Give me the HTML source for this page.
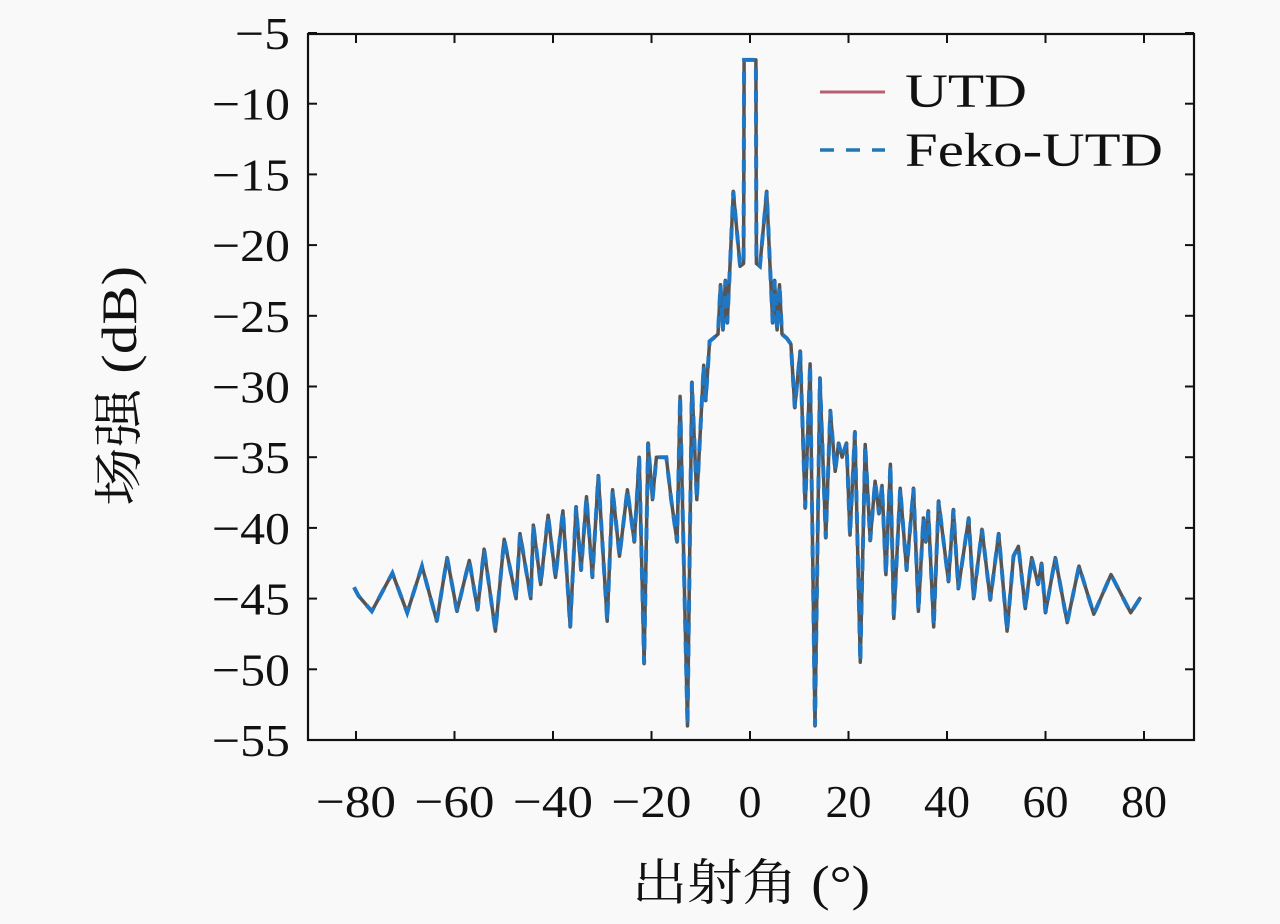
<!DOCTYPE html>
<html><head><meta charset="utf-8"><style>
html,body{margin:0;padding:0;background:#f9f9f9;}
svg text{font-family:"Liberation Serif","Noto Serif CJK SC","Noto Sans CJK SC",serif;fill:#111;}
</style></head><body>
<svg id="chart" width="1280" height="919" viewBox="0 0 1280 919" xmlns="http://www.w3.org/2000/svg">
<rect x="0" y="0" width="1280" height="919" fill="#f9f9f9"/>
<g id="ticks"></g>
<g id="series"></g>
<rect x="308" y="34" width="886" height="706" fill="none" stroke="#111" stroke-width="2.2"/>
<text x="751" y="900" font-size="50" text-anchor="middle" textLength="238" lengthAdjust="spacingAndGlyphs">出射角 (°)</text>
<text transform="translate(136,386) rotate(-90)" font-size="50" text-anchor="middle" textLength="240" lengthAdjust="spacingAndGlyphs">场强 (dB)</text>
<g>
<line x1="820" y1="92" x2="885" y2="92" stroke="#b86070" stroke-width="3"/>
<text x="905" y="107" font-size="48" textLength="122" lengthAdjust="spacingAndGlyphs">UTD</text>
<line x1="820" y1="150" x2="885" y2="150" stroke="#1f77b4" stroke-width="3.5" stroke-dasharray="14,12"/>
<text x="905" y="166" font-size="48" textLength="258" lengthAdjust="spacingAndGlyphs">Feko-UTD</text>
</g>
</svg>
<script>
const xTicks = [-80,-60,-40,-20,0,20,40,60,80];
const yTicks = [-5,-10,-15,-20,-25,-30,-35,-40,-45,-50,-55];
const angles = [-80.4,-79.5,-76.8,-72.6,-69.6,-66.6,-63.6,-61.5,-59.5,-57,-55.3,-54,-51.7,-49.9,-47.5,-46.7,-44.5,-44,-42.5,-41,-39.5,-38,-36.5,-35.3,-34.3,-33.2,-32,-30.8,-29,-27.9,-26.5,-24.9,-23.5,-22.5,-21.5,-20.7,-19.8,-19,-17,-16,-14.8,-14.2,-12.7,-11.8,-10.8,-9.4,-9.0,-8.2,-7.5,-6.5,-6.0,-5.5,-5.0,-4.6,-4.0,-3.4,-2.0,-1.3,-1.2,0,1.2,1.3,2.0,3.4,4.0,4.6,5.0,5.5,6.0,6.5,7.5,8.3,9.1,10.2,11.2,12.2,13.2,14.2,15.4,16.3,17.3,18.0,18.7,19.6,20.3,21.3,22.4,23.4,24.4,25.4,26.2,26.8,27.6,28.5,29.2,30.5,31.8,33.2,34.2,35.2,35.7,36.2,37.3,38.3,40.3,41.3,42.3,44.4,45.4,47.1,48.8,50.5,52.2,53.5,54.5,55.9,57.2,58.5,59.2,60,62,64.4,66.8,69.8,73.3,77.3,79.3];
const utdValues = [-44.2,-44.8,-45.9,-43.2,-46,-42.7,-46.6,-42.1,-45.9,-42.3,-45.8,-41.5,-47.3,-40.8,-45,-40.4,-45,-39.8,-44,-39.1,-43.5,-38.8,-47,-38.5,-43,-37.8,-43.5,-36.3,-46.6,-37.3,-42,-37.3,-41,-35,-49.6,-34,-38,-35,-35,-38,-41,-30.7,-54,-29.7,-38,-28.5,-31,-26.8,-26.6,-26.3,-22.8,-26,-22.5,-25.5,-21,-16.2,-21.5,-21.3,-6.9,-6.9,-6.9,-21.3,-21.5,-16.2,-21,-25.5,-22.5,-26,-22.8,-26.3,-26.6,-27,-31.5,-27.5,-38.6,-28.4,-54,-29.4,-40.7,-31.7,-36,-34,-35,-34,-40.5,-33.2,-49.5,-34.1,-40.9,-36.7,-39,-37,-43.3,-35.5,-46.4,-37.2,-43,-37.2,-45.9,-39.3,-41,-38.8,-47,-38.1,-43.8,-38.7,-44.3,-39.3,-45,-40.1,-45.1,-40.4,-47.3,-42,-41.3,-45.7,-42.1,-44,-42.5,-46,-42.1,-46.7,-42.7,-46.1,-43.3,-46,-44.9];
const fekoValues = [-44.2,-44.8,-45.9,-43.2,-46,-42.7,-46.6,-42.1,-45.9,-42.3,-45.8,-41.5,-47.3,-40.8,-45,-40.4,-45,-39.8,-44,-39.1,-43.5,-38.8,-47,-38.5,-43,-37.8,-43.5,-36.3,-46.6,-37.3,-42,-37.3,-41,-35,-49.6,-34,-38,-35,-35,-38,-41,-30.7,-54,-29.7,-38,-28.5,-31,-26.8,-26.6,-26.3,-22.8,-26,-22.5,-25.5,-21,-16.2,-21.5,-21.3,-6.9,-6.9,-6.9,-21.3,-21.5,-16.2,-21,-25.5,-22.5,-26,-22.8,-26.3,-26.6,-27,-31.5,-27.5,-38.6,-28.4,-54,-29.4,-40.7,-31.7,-36,-34,-35,-34,-40.5,-33.2,-49.5,-34.1,-40.9,-36.7,-39,-37,-43.3,-35.5,-46.4,-37.2,-43,-37.2,-45.9,-39.3,-41,-38.8,-47,-38.1,-43.8,-38.7,-44.3,-39.3,-45,-40.1,-45.1,-40.4,-47.3,-42,-41.3,-45.7,-42.1,-44,-42.5,-46,-42.1,-46.7,-42.7,-46.1,-43.3,-46,-44.9];

const NS = 'http://www.w3.org/2000/svg';
function xScale(v){ return 750 + (v) * (1144 - 356) / 160; }
function yScale(v){ return 33 + (-5 - v) * (740 - 33) / 50; }
function mk(tag, parent){ const e = document.createElementNS(NS, tag); parent.appendChild(e); return e; }
const tg = document.getElementById('ticks');
xTicks.forEach(function(t){
  const x = xScale(t);
  const a = mk('line', tg);
  
  
  a.setAttribute('x1', x); a.setAttribute('x2', x); a.setAttribute('y1', 740); a.setAttribute('y2', 731);
  a.setAttribute('stroke', '#111'); a.setAttribute('stroke-width', '2');
  const b = mk('line', tg);
  
  
  b.setAttribute('x1', x); b.setAttribute('x2', x); b.setAttribute('y1', 34); b.setAttribute('y2', 43);
  b.setAttribute('stroke', '#111'); b.setAttribute('stroke-width', '2');
  const tx = mk('text', tg);
  
  
  tx.setAttribute('x', x); tx.setAttribute('y', 817); tx.setAttribute('font-size', '46'); tx.setAttribute('text-anchor', 'middle');
  tx.textContent = (t < 0 ? '\u2212' + (-t) : String(t));
  if (t < 0) { tx.setAttribute('textLength', '80'); tx.setAttribute('lengthAdjust', 'spacingAndGlyphs'); }
});
yTicks.forEach(function(t){
  const y = yScale(t);
  const a = mk('line', tg);
  
  
  a.setAttribute('x1', 308); a.setAttribute('x2', 317); a.setAttribute('y1', y); a.setAttribute('y2', y);
  a.setAttribute('stroke', '#111'); a.setAttribute('stroke-width', '2');
  const b = mk('line', tg);
  
  
  b.setAttribute('x1', 1194); b.setAttribute('x2', 1185); b.setAttribute('y1', y); b.setAttribute('y2', y);
  b.setAttribute('stroke', '#111'); b.setAttribute('stroke-width', '2');
  const tx = mk('text', tg);
  
  
  tx.setAttribute('x', 290); tx.setAttribute('y', y + 16); tx.setAttribute('font-size', '46'); tx.setAttribute('text-anchor', 'end');
  tx.textContent = '\u2212' + (-t);
  tx.setAttribute('textLength', (-t) >= 10 ? '78' : '55'); tx.setAttribute('lengthAdjust', 'spacingAndGlyphs');
});
function pathD(vals){ return angles.map(function(a,i){ return (i ? 'L' : 'M') + xScale(a).toFixed(1) + ',' + yScale(vals[i]).toFixed(1); }).join(''); }
const sg = document.getElementById('series');
const base = mk('path', sg);


base.setAttribute('d', pathD(utdValues)); base.setAttribute('fill', 'none'); base.setAttribute('stroke', '#555'); base.setAttribute('stroke-width', '3.5'); base.setAttribute('stroke-linejoin', 'round');
const utd = mk('path', sg);


utd.setAttribute('d', pathD(utdValues)); utd.setAttribute('fill', 'none'); utd.setAttribute('stroke', '#f07828'); utd.setAttribute('stroke-width', '3.5'); utd.setAttribute('stroke-dasharray', '8,14');
const feko = mk('path', sg);


feko.setAttribute('d', pathD(fekoValues)); feko.setAttribute('fill', 'none'); feko.setAttribute('stroke', '#1f77c4'); feko.setAttribute('stroke-width', '4'); feko.setAttribute('stroke-dasharray', '12,10');
</script>
</body></html>
